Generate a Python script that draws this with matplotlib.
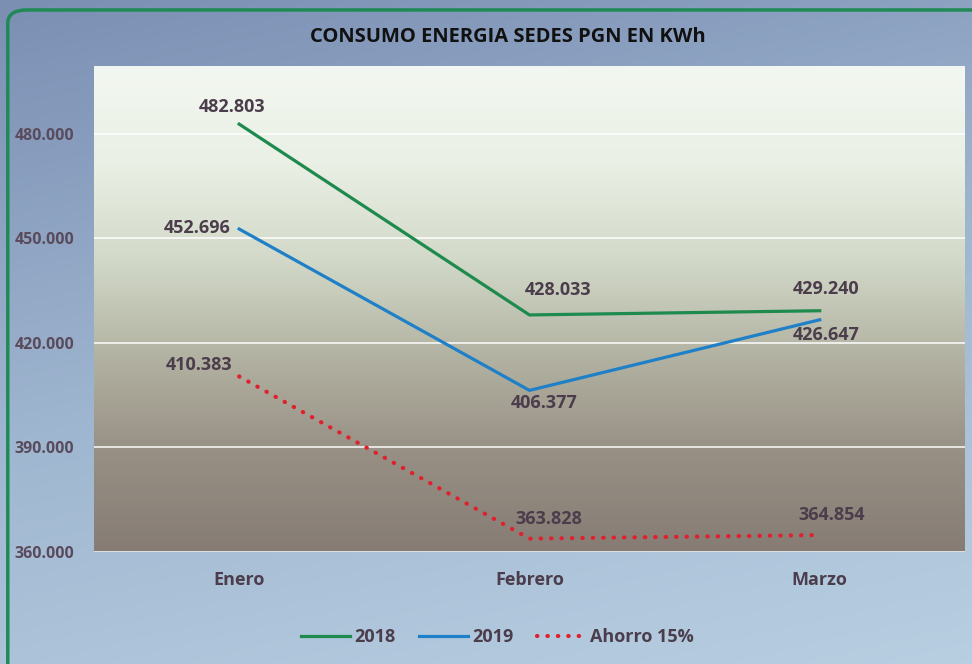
import numpy as np
import matplotlib.pyplot as plt
from matplotlib.patches import FancyBboxPatch
from matplotlib.colors import LinearSegmentedColormap
from matplotlib.lines import Line2D

plt.rcParams['font.family'] = ['Open Sans', 'DejaVu Sans']

meses = ['Enero', 'Febrero', 'Marzo']
consumo_2018 = [482803, 428033, 429240]
consumo_2019 = [452696, 406377, 426647]
ahorro_15 = [410383, 363828, 364854]
yticks = [360000, 390000, 420000, 450000, 480000]

txt = '#4b3d4b'
verde, azul, rojo = '#1e8a4e', '#1f80c8', '#e0202c'
punteado = (0, (0.1, 2.4))

def fmt(v):
    return f'{v:,}'.replace(',', '.')

fig = plt.figure(figsize=(9.72, 6.64), dpi=100)

# fondo del grafico (degradado azul)
bg = fig.add_axes([0, 0, 1, 1], zorder=-10)
bg_cmap = LinearSegmentedColormap.from_list('bg', ['#7b8fb3', '#9fb6d0', '#b8cfe2'])
yy, xx = np.mgrid[0:1:200j, 0:1:200j]
bg.imshow(0.75 * yy + 0.25 * xx, cmap=bg_cmap, extent=[0, 1, 0, 1],
          aspect='auto', origin='upper')
bg.add_patch(FancyBboxPatch((0.008, -0.05), 1.1, 1.035,
                            boxstyle='round,pad=0,rounding_size=0.02',
                            fill=False, ec='#1f8a55', lw=2.5,
                            transform=bg.transAxes))
bg.set_xlim(0, 1)
bg.set_ylim(0, 1)
bg.axis('off')

ax = fig.add_axes([0.0967, 0.1687, 0.896, 0.732])
ax.set_xlim(-0.5, 2.5)
ax.set_ylim(360000, 499500)

# degradado del area de trazado
area_cmap = LinearSegmentedColormap.from_list(
    'area', ['#f3f7f1', '#eaf0e5', '#d2d9c8', '#b2b2a2', '#978f84', '#867c74'])
grad = np.linspace(0, 1, 256).reshape(-1, 1)
ax.imshow(grad, cmap=area_cmap, extent=[-0.5, 2.5, 360000, 499500],
          aspect='auto', origin='upper', zorder=0)

for y in yticks:
    ax.axhline(y, color='white', lw=1.2, alpha=0.9, zorder=1)

x = np.arange(len(meses))
ax.plot(x, consumo_2018, color=verde, lw=2.3, zorder=3, label='2018')
ax.plot(x, consumo_2019, color=azul, lw=2.3, zorder=3, label='2019')
ax.plot(x, ahorro_15, color=rojo, lw=3, ls=punteado, dash_capstyle='round',
        zorder=3, label='Ahorro 15%')

lab = dict(fontsize=13, fontweight='bold', color=txt, zorder=4)
# desplazamientos de las etiquetas en pixeles (dx, dy, alineacion)
off_2018 = [(-7, 17, 'center'), (29, 25, 'center'), (6, 22, 'center')]
off_2019 = [(-9, 1, 'right'), (15, -13, 'center'), (6, -15, 'center')]
off_ah = [(-7, 11, 'right'), (19, 20, 'center'), (12, 20, 'center')]
for serie, offs in ((consumo_2018, off_2018), (consumo_2019, off_2019),
                    (ahorro_15, off_ah)):
    for i, v in enumerate(serie):
        dx, dy, ha = offs[i]
        ax.annotate(fmt(v), (i, v), xytext=(dx, dy), textcoords='offset pixels',
                    ha=ha, va='center', **lab)

ax.set_xticks(x)
ax.set_xticklabels(meses, fontsize=13, fontweight='bold', color=txt)
ax.set_yticks(yticks)
ax.set_yticklabels([fmt(v) for v in yticks], fontsize=11.5, fontweight='bold',
                   color='#5a4b5c')
ax.tick_params(length=0)
ax.tick_params(axis='x', pad=14)
ax.tick_params(axis='y', pad=14)
for s in ax.spines.values():
    s.set_visible(False)

fig.text(0.522, 0.944, 'CONSUMO ENERGIA SEDES PGN EN KWh', ha='center',
         va='center', fontsize=14.5, fontweight='bold', color='#111111')

handles = [Line2D([], [], color=verde, lw=2.3),
           Line2D([], [], color=azul, lw=2.3),
           Line2D([], [], color=rojo, lw=3, ls=punteado, dash_capstyle='round')]
fig.legend(handles, ['2018', '2019', 'Ahorro 15%'], loc='center',
           bbox_to_anchor=(0.512, 0.04), ncol=3, frameon=False,
           prop={'size': 13, 'weight': 'bold'}, labelcolor=txt,
           handlelength=2.7, handletextpad=0.25, columnspacing=1.3)

fig.savefig('out.png', dpi=100)
